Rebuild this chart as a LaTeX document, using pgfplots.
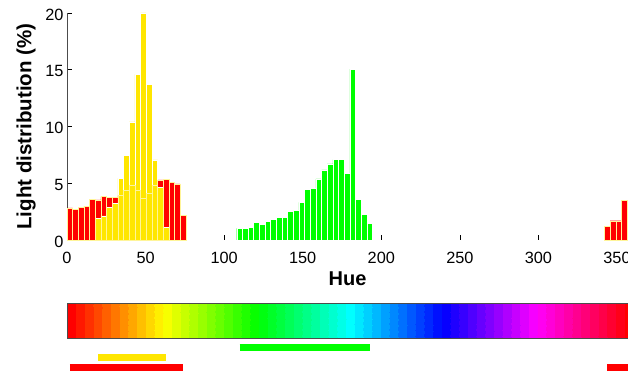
\documentclass[border=0pt]{standalone}
\usepackage{pgfplots}
\pgfplotsset{compat=1.18}
\usepackage{pgfplotstable}
\usepackage{fontspec}
\setmainfont{Liberation Sans}
\definecolor{hred}{RGB}{255,0,0}
\definecolor{hyellow}{RGB}{255,230,0}
\definecolor{hgreen}{RGB}{0,255,0}

% hue bins of 3.6 degrees, value = share of light (%)
\pgfplotstableread{
x y
1.8 2.82
5.4 2.70
9.0 2.85
12.6 2.94
16.2 3.59
19.8 3.53
23.4 3.82
27.0 3.74
30.6 3.76
34.2 3.91
37.8 4.35
41.4 4.82
45.0 4.41
48.6 3.68
52.2 4.12
55.8 4.82
59.4 5.29
63.0 5.35
66.6 5.06
70.2 4.94
73.8 2.18
343.8 1.18
347.4 1.70
351.0 1.70
354.6 3.47
}\redtab

\pgfplotstableread{
x y
19.8 1.91
23.4 2.12
27.0 2.88
30.6 3.24
34.2 5.44
37.8 7.47
41.4 10.40
45.0 14.60
48.6 20.00
52.2 13.70
55.8 7.06
59.4 4.62
63.0 1.12
}\yellowtab

\pgfplotstableread{
x y
109.8 1.03
113.4 1.03
117.0 1.12
120.6 1.56
124.2 1.38
127.8 1.62
131.4 1.79
135.0 2.00
138.6 2.00
142.2 2.53
145.8 2.59
149.4 3.32
153.0 4.47
156.6 4.53
160.2 5.38
163.8 6.18
167.4 6.71
171.0 7.09
174.6 7.09
178.2 5.88
181.8 15.06
185.4 3.59
189.0 2.24
192.6 1.47
}\greentab

\pgfplotsset{
  colormap={hsvsix}{rgb255=(255,0,0) rgb255=(255,255,0) rgb255=(0,255,0) rgb255=(0,255,255) rgb255=(0,0,255) rgb255=(255,0,255) rgb255=(255,0,0)},
  colormap={hsvsteps}{samples of colormap=(65 of hsvsix)}
}

\begin{document}
\begin{tikzpicture}
\path[use as bounding box, clip] (0,0) rectangle (628pt,374pt);
\begin{axis}[
  at={(67pt,134pt)}, anchor=south west,
  scale only axis, width=561pt, height=227pt,
  xmin=0, xmax=357, ymin=0, ymax=20,
  clip=false,
  axis x line*=bottom, axis y line*=left,
  x axis line style={draw=none},
  y axis line style={-, draw=black!70, line width=0.9pt},
  tick align=inside, major tick length=4.5pt,
  tick style={black, line width=0.7pt},
  xtick={0,50,...,350}, ytick={0,5,...,20},
  /pgf/number format/assume math mode=true,
  ticklabel style={font=\fontsize{16.3}{19}\selectfont},
  xticklabel style={anchor=base, yshift=-23.4pt},
  yticklabel style={yshift=-1.5pt},
  xlabel={Hue}, ylabel={Light distribution (\%)},
  xlabel style={font=\bfseries\fontsize{20}{24}\selectfont, at={(axis description cs:0.5,-0.2013)}, anchor=base, inner sep=0pt},
  ylabel style={font=\bfseries\fontsize{20.5}{24}\selectfont, at={(axis description cs:-0.0553,0.5)}, anchor=south, inner sep=0pt},
  colormap name=hsvsteps,
  colormap access=piecewise constant,
  point meta min=0, point meta max=360,
  colorbar horizontal,
  colorbar style={
    at={(parent axis.south west)}, anchor=north west, yshift=-55pt,
    scale only axis, width=565.7pt, height=35pt,
    xtick=\empty, ytick=\empty,
    axis line style={draw=black!70, line width=1pt},
  },
]
\addplot[ybar, bar width=3.6, bar shift=0pt, fill=hred, draw=white, line width=0.4pt] table {\redtab};
\addplot[ybar, bar width=3.6, bar shift=0pt, fill=hyellow, draw=white, line width=0.4pt] table {\yellowtab};
\addplot[ybar, bar width=3.6, bar shift=0pt, fill=none, draw=white!60!hyellow, line width=0.4pt] table {\redtab};
\addplot[ybar, bar width=3.6, bar shift=0pt, fill=hgreen, draw=white, line width=0.4pt] table {\greentab};
% hue ranges of the three colour classes
\addplot[draw=hgreen, line width=6.7pt] coordinates {(109.8,-9.45) (192.6,-9.45)};
\addplot[draw=hyellow, line width=6.7pt] coordinates {(19.8,-10.33) (63.0,-10.33)};
\addplot[draw=hred, line width=6.7pt] coordinates {(1.8,-11.23) (73.8,-11.23)};
\addplot[draw=hred, line width=6.7pt] coordinates {(343.8,-11.23) (360,-11.23)};
\end{axis}
\end{tikzpicture}
\end{document}
